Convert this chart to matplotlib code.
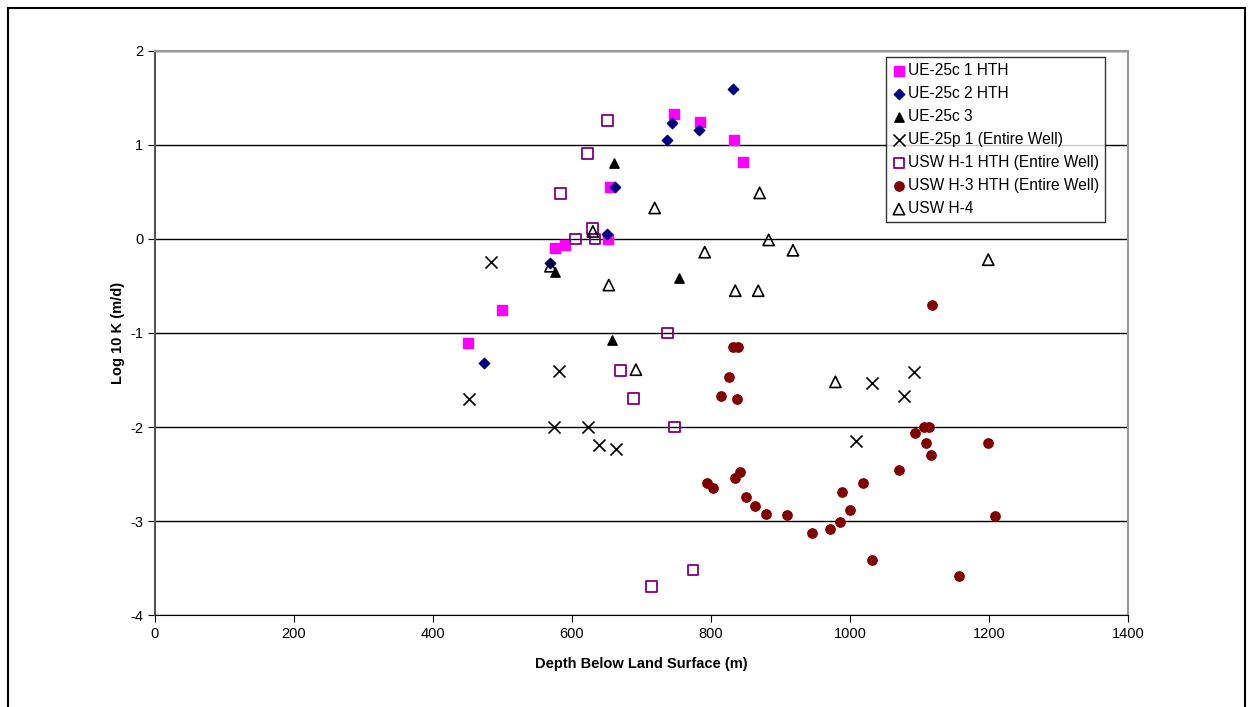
import matplotlib.pyplot as plt
from matplotlib.patches import Rectangle

plt.rcParams['font.family'] = ['Liberation Sans', 'DejaVu Sans']
plt.rcParams['axes.unicode_minus'] = False

# UE-25c 1 HTH
c1_depth = [747, 784, 833, 846, 655, 652, 576, 590, 500, 451]
c1_logk = [1.33, 1.24, 1.05, 0.82, 0.55, 0.0, -0.10, -0.06, -0.76, -1.11]

# UE-25c 2 HTH
c2_depth = [831, 744, 783, 737, 662, 651, 568, 473]
c2_logk = [1.60, 1.23, 1.16, 1.05, 0.55, 0.05, -0.26, -1.32]

# UE-25c 3
c3_depth = [661, 575, 754, 658]
c3_logk = [0.81, -0.35, -0.42, -1.07]

# UE-25p 1 (Entire Well)
p1_depth = [484, 452, 582, 574, 623, 639, 664, 1032, 1092, 1078, 1008]
p1_logk = [-0.25, -1.70, -1.40, -2.0, -2.0, -2.19, -2.23, -1.53, -1.42, -1.67, -2.15]

# USW H-1 HTH (Entire Well)
h1_depth = [651, 622, 583, 629, 605, 633, 737, 670, 689, 748, 774, 714]
h1_logk = [1.26, 0.91, 0.48, 0.11, 0.0, 0.0, -1.0, -1.40, -1.70, -2.0, -3.52, -3.70]

# USW H-3 HTH (Entire Well)
h3_depth = [831, 839, 826, 815, 838, 842, 834, 794, 803, 851, 863, 879, 909,
            945, 971, 985, 1000, 988, 1019, 1032, 1118, 1106, 1114, 1093,
            1109, 1116, 1070, 1198, 1208, 1157]
h3_logk = [-1.15, -1.15, -1.47, -1.67, -1.70, -2.48, -2.54, -2.60, -2.65, -2.74,
           -2.84, -2.93, -2.94, -3.13, -3.08, -3.01, -2.88, -2.69, -2.60, -3.41,
           -0.70, -2.0, -2.0, -2.06, -2.17, -2.30, -2.46, -2.17, -2.95, -3.59]

# USW H-4
h4_depth = [719, 870, 883, 918, 791, 653, 835, 868, 569, 630, 692, 979, 1199]
h4_logk = [0.33, 0.49, -0.01, -0.12, -0.14, -0.49, -0.55, -0.55, -0.29, 0.08,
           -1.39, -1.52, -0.22]

fig = plt.figure(figsize=(12.53, 7.07), dpi=100)
ax = fig.add_axes([0.1237, 0.1301, 0.7765, 0.7978])

ax.scatter(c1_depth, c1_logk, marker='s', s=45, color='#ff00ff', label='UE-25c 1 HTH', zorder=3)
ax.scatter(c2_depth, c2_logk, marker='D', s=28, color='#000080', label='UE-25c 2 HTH', zorder=3)
ax.scatter(c3_depth, c3_logk, marker='^', s=45, color='black', label='UE-25c 3', zorder=3)
ax.scatter(p1_depth, p1_logk, marker='x', s=75, color='black', linewidths=1.2,
           label='UE-25p 1 (Entire Well)', zorder=3)
ax.scatter(h1_depth, h1_logk, marker='s', s=60, facecolors='none', edgecolors='#800080',
           linewidths=1.3, label='USW H-1 HTH (Entire Well)', zorder=3)
ax.scatter(h3_depth, h3_logk, marker='o', s=45, color='#800000',
           label='USW H-3 HTH (Entire Well)', zorder=3)
ax.scatter(h4_depth, h4_logk, marker='^', s=65, facecolors='none', edgecolors='black',
           linewidths=1.2, label='USW H-4', zorder=3)

ax.set_xlim(0, 1400)
ax.set_ylim(-4, 2)
ax.set_xticks(range(0, 1401, 200))
ax.set_yticks(range(-4, 3))
ax.yaxis.grid(True, color='black', linewidth=1)
ax.set_axisbelow(True)

for side in ['top', 'right']:
    ax.spines[side].set_color('#999999')
    ax.spines[side].set_linewidth(1.5)
    ax.spines[side].set_zorder(2.5)
ax.spines['left'].set_color('#555555')
ax.spines['left'].set_linewidth(1.5)
ax.spines['bottom'].set_color('black')
ax.tick_params(direction='out', length=5, labelsize=10.5, colors='black')

ax.set_xlabel('Depth Below Land Surface (m)', fontsize=10.5, fontweight='bold', labelpad=12)
ax.set_ylabel('Log 10 K (m/d)', fontsize=10.5, fontweight='bold', labelpad=4)

leg = ax.legend(loc='upper left', bbox_to_anchor=(0.751, 0.989), fontsize=11.2,
                frameon=True, fancybox=False, edgecolor='black', handletextpad=0.1,
                handlelength=1.0, labelspacing=0.52, borderpad=0.35, borderaxespad=0,
                scatterpoints=1)
leg.get_frame().set_linewidth(1.0)

# outer chart border
fig.patches.append(Rectangle((8 / 1253, -0.05), 1237 / 1253, 1 - 8 / 707 + 0.05,
                             transform=fig.transFigure, fill=False, edgecolor='black',
                             linewidth=1.5))

fig.savefig('out.png', dpi=100)
